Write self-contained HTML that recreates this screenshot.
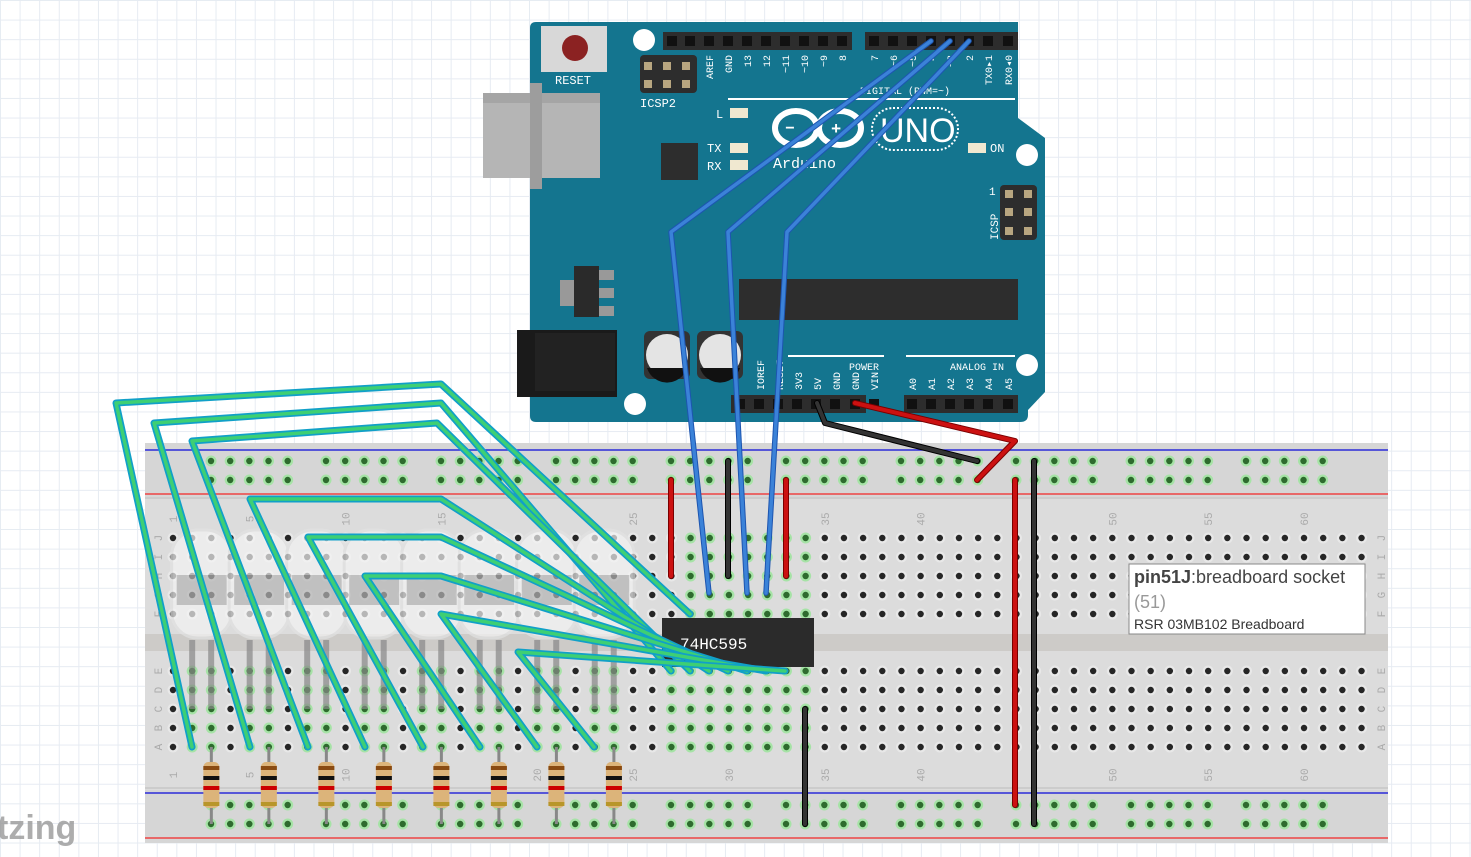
<!DOCTYPE html>
<html><head><meta charset="utf-8"><style>
html,body{margin:0;padding:0;width:1471px;height:857px;overflow:hidden;background:#fff;
background-image:linear-gradient(#e6ebf2 1px,transparent 1px),linear-gradient(90deg,#e6ebf2 1px,transparent 1px);background-size:19.6px 19.6px;}
svg{position:absolute;left:0;top:0;font-family:"Liberation Mono",monospace}
.sans{font-family:"Liberation Sans",sans-serif}
</style></head><body>
<svg id="s" width="1471" height="857" xmlns="http://www.w3.org/2000/svg">
<path d="M536 22 H1018 L1018 118 L1045 138 L1045 392 L1028 410 L1028 415 Q1028 422 1020 422 H536 Q530 422 530 416 V28 Q530 22 536 22Z" fill="#14758f"/>
<rect x="483" y="93" width="117" height="85" fill="#b5b5b5"/><rect x="483" y="93" width="117" height="10" fill="#a5a5a5"/><rect x="530" y="83" width="12" height="106" fill="#9d9d9d"/>
<rect x="541" y="26" width="66" height="46" fill="#d8d8d8"/><circle cx="575" cy="48" r="13" fill="#8b2222"/>
<text x="555" y="84" font-size="12" fill="#fff">RESET</text>
<circle cx="644" cy="40" r="11" fill="#fff"/><circle cx="1027" cy="155" r="11" fill="#fff"/><circle cx="635" cy="404" r="11" fill="#fff"/><circle cx="1027" cy="365" r="11" fill="#fff"/>
<rect x="663" y="32" width="189" height="18" fill="#2d2d2d"/><rect x="865" y="32" width="153" height="18" fill="#2d2d2d"/>
<rect x="640" y="55" width="57" height="38" rx="4" fill="#2d2d2d"/>
<text x="640" y="107" font-size="12" fill="#fff">ICSP2</text>
<rect x="661" y="143" width="37" height="37" fill="#2d2d2d"/>
<text x="716" y="118" font-size="12" fill="#fff">L</text><rect x="730" y="108" width="18" height="10" fill="#f0e8d0"/>
<text x="707" y="152" font-size="12" fill="#fff">TX</text><rect x="730" y="143" width="18" height="10" fill="#f0e8d0"/>
<text x="707" y="170" font-size="12" fill="#fff">RX</text><rect x="730" y="160" width="18" height="10" fill="#f0e8d0"/>
<text x="990" y="152" font-size="12" fill="#fff">ON</text><rect x="968" y="143" width="18" height="10" fill="#f0e8d0"/>
<line x1="728" y1="99" x2="1015" y2="99" stroke="#fff" stroke-width="2"/>
<text x="860" y="94" font-size="10" fill="#fff">DIGITAL (PWM=~)</text>
<ellipse cx="796" cy="128" rx="21" ry="17" fill="none" stroke="#fff" stroke-width="6"/><ellipse cx="840" cy="128" rx="21" ry="17" fill="none" stroke="#fff" stroke-width="6"/>
<text x="785" y="133" font-size="16" fill="#fff" font-weight="bold">−</text><text x="831" y="134" font-size="17" fill="#fff" font-weight="bold">+</text>
<rect x="872" y="108" width="86" height="42" rx="21" fill="none" stroke="#fff" stroke-width="2" stroke-dasharray="2 2"/>
<text x="880" y="142" font-size="34" fill="#fff" class="sans">UNO</text>
<text x="773" y="168" font-size="15" fill="#fff">Arduino</text>
<rect x="1000" y="185" width="37" height="55" rx="4" fill="#2d2d2d"/>
<text x="989" y="195" font-size="11" fill="#fff">1</text>
<text x="998" y="240" font-size="11" fill="#fff" transform="rotate(-90 998 240)">ICSP</text>
<rect x="739" y="279" width="279" height="41" fill="#2d2d2d"/>
<rect x="560" y="280" width="14" height="26" fill="#999"/><rect x="598" y="270" width="16" height="10" fill="#999"/><rect x="598" y="288" width="16" height="10" fill="#999"/><rect x="598" y="306" width="16" height="10" fill="#999"/>
<rect x="574" y="266" width="25" height="51" fill="#2a2a2a"/>
<rect x="517" y="330" width="100" height="67" fill="#1a1a1a"/><rect x="535" y="333" width="80" height="58" fill="#222"/>
<rect x="644" y="331" width="46" height="48" rx="6" fill="#333"/><circle cx="667" cy="355" r="21" fill="#e4e4e4"/><path d="M647 368 A21 21 0 0 0 687 368Z" fill="#111"/>
<rect x="697" y="331" width="46" height="48" rx="6" fill="#333"/><circle cx="720" cy="355" r="21" fill="#e4e4e4"/><path d="M700 368 A21 21 0 0 0 740 368Z" fill="#111"/>
<line x1="788" y1="356" x2="884" y2="356" stroke="#fff" stroke-width="2"/><line x1="906" y1="356" x2="1015" y2="356" stroke="#fff" stroke-width="2"/>
<text x="849" y="370" font-size="10" fill="#fff">POWER</text><text x="950" y="370" font-size="10" fill="#fff">ANALOG IN</text>
<rect x="731" y="395" width="135" height="18" fill="#2d2d2d"/><rect x="904" y="395" width="114" height="18" fill="#2d2d2d"/>
<g id="ard"></g>
<rect x="145" y="443" width="1243" height="400" fill="#dcdcdc"/>
<rect x="145" y="443" width="1243" height="54" fill="#d6d6d6"/><rect x="145" y="790" width="1243" height="53" fill="#d6d6d6"/>
<rect x="145" y="634" width="1243" height="17" fill="#cdcbc8"/>
<line x1="145" y1="450" x2="1388" y2="450" stroke="#2b2bd8" stroke-width="1.5"/><line x1="145" y1="494" x2="1388" y2="494" stroke="#e44" stroke-width="1.5"/>
<line x1="145" y1="793" x2="1388" y2="793" stroke="#2b2bd8" stroke-width="1.5"/><line x1="145" y1="838" x2="1388" y2="838" stroke="#e44" stroke-width="1.5"/>
<line x1="145" y1="498" x2="1388" y2="498" stroke="#bbb"/><line x1="145" y1="788" x2="1388" y2="788" stroke="#bbb"/>
<g id="holes"></g>
<g id="leds" opacity="0.7"></g>
<g id="res"></g>
<rect x="662" y="618" width="152" height="49" fill="#2b2b2b"/>
<text x="680" y="649" font-size="16" fill="#fff">74HC595</text>
<g id="wires" fill="none" stroke-linecap="round" stroke-linejoin="round"></g>
<text x="-3" y="839" font-size="34" fill="#999" font-weight="bold" class="sans" opacity="0.8">tzing</text>
<rect x="1129" y="564" width="236" height="70" fill="#fff" stroke="#888"/>
<text x="1134" y="583" font-size="18" fill="#444" class="sans"><tspan font-weight="bold">pin51J</tspan>:breadboard socket</text>
<text x="1134" y="608" font-size="18" fill="#999" class="sans">(51)</text>
<text x="1134" y="629" font-size="14" fill="#333" class="sans">RSR 03MB102 Breadboard</text>
</svg>
<script>
(function(){
var NS="http://www.w3.org/2000/svg";
function el(p,t,a,txt){var e=document.createElementNS(NS,t);for(var k in a)e.setAttribute(k,a[k]);if(txt!==undefined)e.textContent=txt;document.getElementById(p).appendChild(e);return e;}
function cx(n){return 173+(n-1)*19.17;}
var hp=[672,690,709,728,747,766,785,804,823,842,874,893,912,931,950,969,988,1008];
hp.forEach(function(x){el("ard","rect",{x:x-5,y:36,width:10,height:10,fill:"#111"});});
[740,759,778,797,816,835,855,874,912,931,950,969,988,1008].forEach(function(x){el("ard","rect",{x:x-5,y:399,width:10,height:10,fill:"#111"});});
[[648,66],[667,66],[686,66],[648,84],[667,84],[686,84],[1009,194],[1028,194],[1009,212],[1028,212],[1009,231],[1028,231]].forEach(function(p){el("ard","rect",{x:p[0]-4,y:p[1]-4,width:8,height:8,fill:"#b8a680"});});
var dl=[["AREF",709],["GND",728],["13",747],["12",766],["~11",785],["~10",804],["~9",823],["8",842],["7",874],["~6",893],["~5",912],["4",931],["~3",950],["2",969],["TX0▸1",988],["RX0◂0",1008]];
dl.forEach(function(d){el("ard","text",{x:d[1]+4,y:55,"font-size":10,fill:"#fff",transform:"rotate(-90 "+(d[1]+4)+" 55)","text-anchor":"end"},d[0]);});
var pl=[["IOREF",764],["RESET",783],["3V3",802],["5V",821],["GND",840],["GND",859],["VIN",878],["A0",916],["A1",935],["A2",954],["A3",973],["A4",992],["A5",1012]];
pl.forEach(function(d){el("ard","text",{x:d[1],y:390,"font-size":10,fill:"#fff",transform:"rotate(-90 "+d[1]+" 390)"},d[0]);});
function hole(x,y,g){el("holes","circle",{cx:x,cy:y,r:5.5,fill:g?"#a6e3a6":"#e8e8e8"});el("holes","circle",{cx:x,cy:y,r:3.2,fill:g?"#2e6b2e":"#262626"});}
[461,480,805,824].forEach(function(y){for(var g=0;g<10;g++)for(var i=0;i<5;i++)hole(211+g*115+i*19.17,y,true);});
var rowsT=[538,557,576,595,614],rowsB=[671,690,709,728,747];
for(var n=1;n<=63;n++){
 var gt=(n>=28&&n<=34), gb=(n>=27&&n<=34)||(n>=2&&n<=24&&n%3!=1);
 var xx=cx(n);
 rowsT.forEach(function(y){hole(xx,y,gt);});rowsB.forEach(function(y){hole(xx,y,gb);});
}
function lab(n,y){var x=cx(n)+4;el("holes","text",{x:x,y:y,"font-size":11,fill:"#aaa",transform:"rotate(-90 "+x+" "+y+")","text-anchor":"middle"},""+n);}
[1,5,10,15,25,35,40,50,55,60].forEach(function(n){lab(n,519);lab(n,775);});
lab(20,775);lab(30,775);
var L="JIHGF".split(""),L2="EDCBA".split("");
rowsT.forEach(function(y,i){[158,1381].forEach(function(x){el("holes","text",{x:x,y:y+4,"font-size":11,fill:"#aaa",transform:"rotate(-90 "+x+" "+y+")","text-anchor":"middle"},L[i]);});});
rowsB.forEach(function(y,i){[158,1381].forEach(function(x){el("holes","text",{x:x,y:y+4,"font-size":11,fill:"#aaa",transform:"rotate(-90 "+x+" "+y+")","text-anchor":"middle"},L2[i]);});});
for(var k=0;k<8;k++){var c=cx(2+3*k)+9.5;
 el("leds","rect",{x:c-30,y:530,width:60,height:108,rx:26,fill:"#f4f4f4",stroke:"#e2e2e2","stroke-width":3});
 el("leds","rect",{x:c-25,y:575,width:50,height:30,fill:"#b5b5b5"});
 el("leds","line",{x1:c-9.5,y1:640,x2:c-9.5,y2:709,stroke:"#888","stroke-width":6});
 el("leds","line",{x1:c+9.5,y1:640,x2:c+9.5,y2:709,stroke:"#888","stroke-width":6});}
for(var k=0;k<8;k++){var x=cx(3+3*k);
 el("res","line",{x1:x,y1:747,x2:x,y2:824,stroke:"#888","stroke-width":3});
 el("res","rect",{x:x-8,y:762,width:16,height:46,rx:5,fill:"#dcb47a"});
 [[766,"#8a4b12"],[776,"#111"],[786,"#c00"],[802,"#b8962a"]].forEach(function(b){el("res","rect",{x:x-8,y:b[0],width:16,height:4,fill:b[1]});});}
function w(pts,col,wd){el("wires","polyline",{points:pts,stroke:col,"stroke-width":wd});}
function gw(pts){w(pts,"#11a0c8",7);w(pts,"#3ecf74",3.5);}
gw("690,614 441,384 116,403 192,747");
gw("671,671 441,403 154,423 250,747");
gw("690,671 437,423 192,441 308,747");
gw("709,671 441,499 250,499 365,747");
gw("728,671 441,537 308,537 423,747");
gw("747,671 441,576 365,576 480,747");
gw("766,671 441,614 537,747");
gw("785,671 518,652 594,747");
function bw(pts){w(pts,"#1d55b0",5.5);w(pts,"#3b82d8",3.5);}
bw("931,41 671,232 709,593");bw("950,41 728,232 747,593");bw("969,41 787,232 766,593");
function rw(pts){w(pts,"#7a0000",6);w(pts,"#cc1111",4);}
function kw(pts){w(pts,"#000",6);w(pts,"#333",4);}
kw("817,403 825,423 977,461");rw("855,403 1015,441 977,480");
rw("671,480 671,576");kw("728,461 728,576");rw("786,480 786,576");
kw("805,709 805,824");rw("1015,480 1015,805");kw("1034,461 1034,824");
})();
</script>
</body></html>
